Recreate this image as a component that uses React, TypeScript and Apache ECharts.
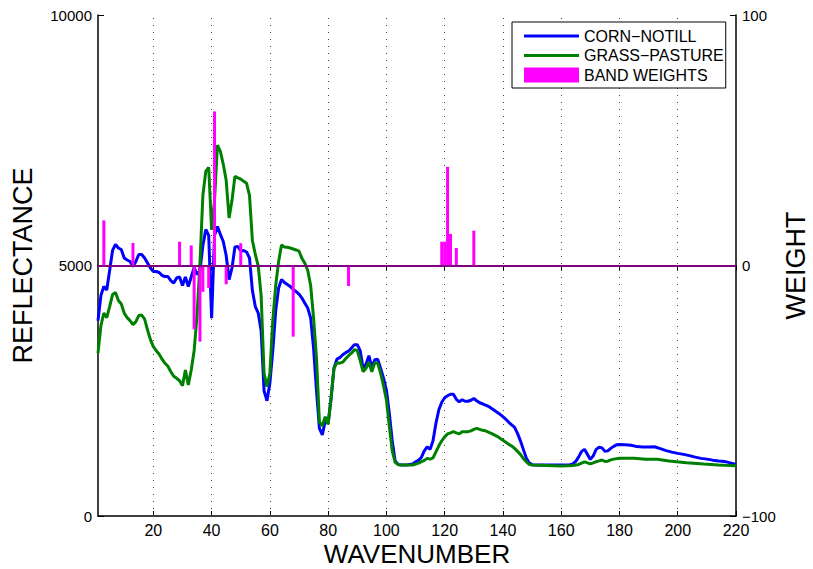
import React, { useEffect, useRef } from "react";
import * as echarts from "echarts";

// CORN-NOTILL reflectance: [wavenumber, reflectance]
const cornNotill: [number, number][] = [
  [1,3900],[2,4400],[3,4580],[4,4510],[5,4900],[6,5300],[7,5420],[8,5350],[9,5320],[10,5150],
  [11,5110],[12,5080],[13,4980],[14,5080],[15,5220],[16,5220],[17,5150],[18,5050],[19,4950],[20,4880],
  [21,4880],[22,4860],[23,4800],[24,4780],[25,4780],[26,4700],[27,4650],[28,4750],[29,4770],[30,4600],
  [31,4770],[32,4580],[33,4770],[34,4960],[35,4820],[36,4900],[37,5400],[38,5720],[39,5600],[40,3950],
  [41,5600],[42,5780],[43,5620],[44,5480],[45,5200],[46,4720],[47,4950],[48,5370],[49,5380],[50,5290],
  [51,5300],[52,5270],[53,5150],[54,4500],[55,4180],[56,4050],[57,3700],[58,2500],[59,2300],[60,2650],
  [61,3300],[62,4100],[63,4550],[64,4720],[65,4660],[66,4620],[67,4580],[68,4520],[69,4480],[70,4430],
  [71,4350],[72,4245],[73,4150],[74,3950],[75,3350],[76,2500],[77,1750],[78,1620],[79,1900],[80,1850],
  [81,2350],[82,2950],[83,3130],[84,3160],[85,3220],[86,3260],[87,3290],[88,3350],[89,3420],[90,3420],
  [91,3300],[92,2950],[93,3030],[94,3200],[95,2960],[96,3120],[97,3130],[98,2950],[99,2750],[100,2515],
  [101,2050],[102,1500],[103,1100],[104,1030],[105,1018],[107,1018],[109,1040],[110,1080],[111,1110],[112,1170],
  [113,1300],[114,1380],[115,1330],[116,1500],[117,1850],[118,2120],[119,2270],[120,2360],[121,2400],[122,2430],
  [123,2430],[124,2330],[125,2280],[126,2320],[127,2290],[128,2290],[129,2310],[130,2345],[131,2300],[132,2260],
  [133,2240],[134,2215],[135,2190],[136,2150],[137,2110],[138,2070],[139,2030],[140,1982],[141,1930],[142,1870],
  [143,1820],[144,1770],[145,1650],[146,1500],[147,1330],[148,1160],[149,1060],[150,1025],[152,1018],[156,1018],
  [160,1018],[163,1025],[164,1040],[165,1090],[166,1180],[167,1290],[168,1330],[169,1230],[170,1130],[171,1200],
  [172,1330],[173,1371],[174,1360],[175,1290],[176,1300],[177,1350],[178,1390],[179,1420],[180,1425],[182,1424],
  [184,1411],[186,1385],[188,1375],[190,1375],[192,1383],[194,1345],[196,1305],[198,1275],[200,1250],[202,1230],
  [204,1205],[206,1175],[208,1150],[210,1135],[212,1115],[214,1100],[216,1090],[218,1060],[220,1030],
];

// GRASS-PASTURE reflectance: [wavenumber, reflectance]
const grassPasture: [number, number][] = [
  [1,3250],[2,3800],[3,4050],[4,3960],[5,4180],[6,4420],[7,4460],[8,4300],[9,4230],[10,4050],
  [11,3960],[12,3900],[13,3820],[14,3880],[15,4000],[16,4010],[17,3930],[18,3713],[19,3520],[20,3380],
  [21,3300],[22,3230],[23,3130],[24,3048],[25,2990],[26,2880],[27,2790],[28,2748],[29,2700],[30,2600],
  [31,2914],[32,2615],[33,2914],[34,3300],[35,4000],[36,5044],[37,6400],[38,6880],[39,6960],[40,5710],
  [41,6300],[42,7405],[43,7280],[44,7020],[45,6700],[46,5950],[47,6300],[48,6780],[49,6750],[50,6725],
  [51,6680],[52,6640],[53,6400],[54,5500],[55,5220],[56,4990],[57,4400],[58,2848],[59,2580],[60,2848],
  [61,3900],[62,4600],[63,5080],[64,5410],[65,5370],[66,5365],[67,5350],[68,5330],[69,5310],[70,5285],
  [71,5143],[72,5044],[73,4900],[74,4600],[75,3950],[76,3150],[77,1880],[78,1800],[79,1982],[80,1830],
  [81,2350],[82,2950],[83,3060],[84,3050],[85,3070],[86,3140],[87,3200],[88,3250],[89,3320],[90,3300],
  [91,3100],[92,2880],[93,2948],[94,3070],[95,2880],[96,3060],[97,3050],[98,2850],[99,2600],[100,2315],
  [101,1800],[102,1300],[103,1070],[104,1025],[106,1018],[109,1018],[111,1055],[113,1110],[114,1150],[115,1135],
  [116,1160],[117,1280],[118,1400],[119,1500],[120,1580],[121,1640],[122,1660],[123,1683],[124,1660],[125,1640],
  [126,1680],[127,1683],[128,1683],[129,1700],[130,1730],[131,1750],[132,1730],[133,1710],[134,1700],[135,1675],
  [136,1650],[137,1620],[138,1590],[139,1550],[140,1510],[141,1470],[142,1430],[143,1397],[144,1350],[145,1290],
  [146,1230],[147,1150],[148,1084],[149,1030],[150,1018],[155,1010],[160,1000],[164,1010],[166,1030],[167,1055],
  [168,1080],[169,1060],[170,1040],[171,1060],[172,1084],[173,1100],[174,1118],[175,1090],[176,1095],[177,1120],
  [178,1135],[180,1152],[185,1152],[189,1132],[193,1132],[197,1098],[203,1064],[209,1038],[214,1018],[220,1004],
];

// Band weights: [wavenumber, weight]
const bandWeights: [number, number][] = [
  [3,18],[13,9],[29,9.5],[33,8],[34,-25.5],[36,-30.4],[37,-10.5],[39,-9],[41,61.5],[45,-7.5],
  [50,8.9],[68,-28.4],[87,-8.2],[119,9.5],[120,9.5],[121,39.4],[122,12.6],[124,7],[130,13.9],
];

const xTicks = [20, 40, 60, 80, 100, 120, 140, 160, 180, 200, 220];
const xGridLines = [20, 40, 60, 80, 100, 120, 140, 160, 180, 200];

const SANS = "'Liberation Sans', Arial, sans-serif";
const LINE_ICON = "path://M0,0L55,0L55,3L0,3Z";

export default function App() {
  const ref = useRef<HTMLDivElement>(null);
  useEffect(() => {
    if (!ref.current) return;
    const chart = echarts.init(ref.current, undefined, { renderer: "svg" });
    const axisLine = { show: true, lineStyle: { color: "#000", width: 1.5 } };
    const titleStyle = { fontFamily: SANS, fontSize: 27, lineHeight: 27, color: "#000" };
    chart.setOption({
      animation: false,
      backgroundColor: "#fff",
      grid: { left: 98, right: 77, top: 15, bottom: 53, containLabel: false, outerBoundsMode: "none" },
      legend: {
        orient: "vertical",
        left: 512,
        top: 22,
        itemWidth: 55,
        itemHeight: 15,
        itemGap: 3.5,
        symbolKeepAspect: true,
        padding: [6, 2, 5, 12],
        borderColor: "#000",
        borderWidth: 1,
        backgroundColor: "#fff",
        textStyle: { fontFamily: SANS, fontSize: 16, lineHeight: 16, color: "#000" },
        data: [
          { name: "CORN−NOTILL", icon: LINE_ICON },
          { name: "GRASS−PASTURE", icon: LINE_ICON },
          { name: "BAND WEIGHTS", icon: "rect" },
        ],
      },
      xAxis: [
        {
          type: "value",
          min: 1,
          max: 220,
          position: "bottom",
          name: "WAVENUMBER",
          nameLocation: "middle",
          nameGap: 25,
          nameMoveOverlap: false,
          nameTextStyle: { fontFamily: SANS, fontSize: 26, lineHeight: 26, color: "#000" },
          axisLine,
          axisTick: { show: true, inside: true, length: 5, customValues: xTicks, lineStyle: { color: "#000" } },
          axisLabel: {
            customValues: xTicks,
            fontFamily: SANS,
            fontSize: 16,
            lineHeight: 16,
            color: "#000",
            margin: 6,
          },
          splitLine: { show: false },
        },
        {
          type: "value",
          min: 1,
          max: 220,
          position: "top",
          axisLine,
          axisTick: { show: true, inside: true, length: 5, customValues: xTicks, lineStyle: { color: "#000" } },
          axisLabel: { show: false },
          splitLine: { show: false },
        },
      ],
      yAxis: [
        {
          type: "value",
          min: 0,
          max: 10000,
          interval: 5000,
          position: "left",
          name: "REFLECTANCE",
          nameLocation: "middle",
          nameRotate: 90,
          nameGap: 62,
          nameMoveOverlap: false,
          nameTextStyle: titleStyle,
          axisLine,
          axisTick: { show: true, inside: true, length: 6, lineStyle: { color: "#000" } },
          axisLabel: {
            fontFamily: SANS,
            fontSize: 15,
            color: "#000",
            margin: 6,
            formatter: (v: number) => String(v),
          },
          splitLine: { show: false },
        },
        {
          type: "value",
          min: -100,
          max: 100,
          interval: 100,
          position: "right",
          name: "WEIGHT",
          nameLocation: "middle",
          nameRotate: 90,
          nameGap: 46,
          nameMoveOverlap: false,
          nameTextStyle: titleStyle,
          axisLine,
          axisTick: { show: true, inside: true, length: 6, lineStyle: { color: "#000" } },
          axisLabel: {
            fontFamily: SANS,
            fontSize: 15,
            color: "#000",
            margin: 6,
            formatter: (v: number) => String(v).replace("-", "−"),
          },
          splitLine: { show: false },
        },
      ],
      series: [
        {
          name: "CORN−NOTILL",
          type: "line",
          xAxisIndex: 0,
          yAxisIndex: 0,
          data: cornNotill,
          showSymbol: false,
          symbol: "none",
          lineStyle: { color: "#0000ff", width: 3 },
          itemStyle: { color: "#0000ff" },
          z: 3,
          markLine: {
            silent: true,
            symbol: "none",
            z: 1,
            label: { show: false },
            lineStyle: { color: "#444", width: 1, type: [1, 6] },
            data: xGridLines.map((v) => ({ xAxis: v })),
          },
        },
        {
          name: "GRASS−PASTURE",
          type: "line",
          xAxisIndex: 0,
          yAxisIndex: 0,
          data: grassPasture,
          showSymbol: false,
          symbol: "none",
          lineStyle: { color: "#008000", width: 3 },
          itemStyle: { color: "#008000" },
          z: 4,
        },
        {
          name: "BAND WEIGHTS",
          type: "bar",
          xAxisIndex: 0,
          yAxisIndex: 1,
          data: bandWeights,
          barWidth: 3,
          itemStyle: { color: "#ff00ff" },
          z: 5,
          markLine: {
            silent: true,
            symbol: "none",
            z: 6,
            label: { show: false },
            lineStyle: { color: "#800080", width: 2, type: "solid" },
            data: [{ yAxis: 0 }],
          },
        },
      ],
    });
    return () => chart.dispose();
  }, []);
  return (
    <div
      ref={ref}
      style={{ position: "absolute", left: 0, top: 0, width: 813, height: 569 }}
    />
  );
}
